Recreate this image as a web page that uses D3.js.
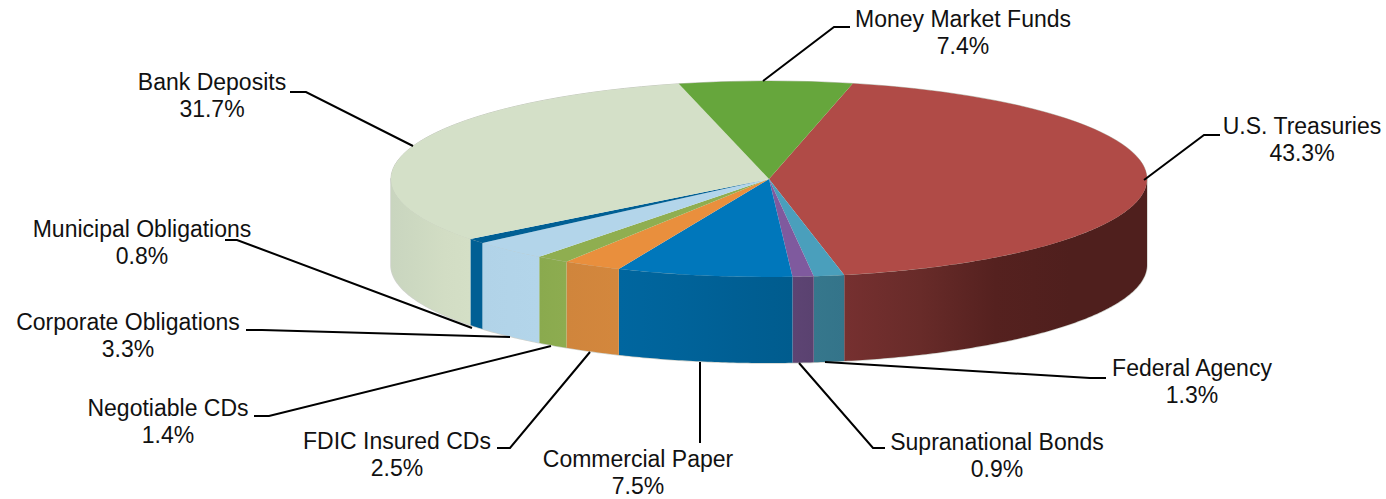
<!DOCTYPE html>
<html>
<head>
<meta charset="utf-8">
<style>
html,body{margin:0;padding:0;background:#fff;}
svg{display:block;}
text{font-family:"Liberation Sans",Arial,sans-serif;font-size:23px;fill:#111;text-anchor:middle;}
</style>
<script src="https://cdn.jsdelivr.net/npm/d3@7/dist/d3.min.js"></script>
</head>
<body>
<svg id="chart" width="1386" height="499"></svg>
<script>
// Portfolio composition, percent of total, clockwise from the Treasuries slice
const categories = ["U.S. Treasuries","Federal Agency","Supranational Bonds","Commercial Paper","FDIC Insured CDs","Negotiable CDs","Corporate Obligations","Municipal Obligations","Bank Deposits","Money Market Funds"];
const shares = [43.3,1.3,0.9,7.5,2.5,1.4,3.3,0.8,31.7,7.4];
const topColors = ["#b04b47","#4a9fbc","#7f5a9e","#0077bb","#e98f3d","#8fae50","#b3d5ea","#005f94","#d4e0c8","#66a63c"];
// Shading across the outer wall of each slice, left to right
const wallShades = [
  ["#763030","#682b29","#55211f","#4f1f1d","#4f1f1d"],
  ["#36778c","#34748a"],
  ["#5d4473","#5a4270"],
  ["#00669f","#00639a","#005f94","#005c8e"],
  ["#d0853c","#d3873d"],
  ["#8aaa4e","#8dac50"],
  ["#b1d3e8","#b3d5ea"],
  ["#005f94","#005f94"],
  ["#c9d5bf","#cdd9c1","#d2ddc4","#d4dfc6"],
  ["#66a63c","#66a63c"]
];

// Label placement: text centre, first baseline, and the leader line's path
const labelLayout = [
  {x:1302,y:134,leader:[[1144,180],[1204,135],[1220,135]]},
  {x:1192,y:376,leader:[[825,362],[1090,378],[1106,378]]},
  {x:997,y:450,leader:[[799,363],[873,448],[885,448]]},
  {x:638,y:467,leader:[[700,362],[700,443]]},
  {x:397,y:449,leader:[[590,352],[510,448],[497,448]]},
  {x:168,y:416,leader:[[551,346],[269,416],[254,416]]},
  {x:128,y:330,leader:[[510,337],[262,330],[246,330]]},
  {x:142,y:237,leader:[[472,328],[237,240],[225,240]]},
  {x:212,y:90,leader:[[413,146],[306,92],[290,92]]},
  {x:963,y:27,leader:[[763,81],[834,27],[850,27]]}
];

const cx = 769, cy = 179, rx = 378, ry = 98, depth = 86;
const startDeg = 12.8;
const lineGap = 27;

const svg = d3.select("#chart");
const defs = svg.append("defs");

const slices = d3.pie().sort(null)
  .startAngle(startDeg * Math.PI / 180)
  .endAngle((startDeg + 360) * Math.PI / 180)(shares);

const px = a => cx + rx * Math.sin(a);
const py = a => cy - ry * Math.cos(a);

// Front wall: only the part of the rim facing the viewer, a quarter turn either side of 180 degrees
const wallArea = d3.area()
  .x(px)
  .y0(py)
  .y1(a => py(a) + depth);

function wallSpan(s) {
  const a0 = Math.max(s.startAngle, Math.PI / 2);
  const a1 = Math.min(s.endAngle, Math.PI * 1.5);
  return a1 > a0 ? [a0, a1] : null;
}

// thin pale fringe round the solid's silhouette
svg.append("path")
  .attr("d", wallArea(d3.range(Math.PI / 2, Math.PI * 1.5 + 0.01, 0.01)))
  .attr("fill", "none").attr("stroke", "#cfd2cc").attr("stroke-width", 1.5);
svg.append("ellipse")
  .attr("cx", cx).attr("cy", cy).attr("rx", rx).attr("ry", ry)
  .attr("fill", "none").attr("stroke", "#c2c6bc").attr("stroke-width", 1);

const wallGroup = svg.append("g");
slices.forEach((s, i) => {
  const span = wallSpan(s);
  if (!span) return;
  const steps = Math.max(2, Math.ceil((span[1] - span[0]) / 0.01));
  const samples = d3.range(steps + 1).map(k => span[0] + (span[1] - span[0]) * k / steps);
  const xs = d3.extent(samples, px);
  const grad = defs.append("linearGradient")
    .attr("id", "wall" + i)
    .attr("gradientUnits", "userSpaceOnUse")
    .attr("x1", xs[0]).attr("x2", xs[1]).attr("y1", 0).attr("y2", 0);
  wallShades[i].forEach((c, k, all) => {
    grad.append("stop").attr("offset", k / (all.length - 1)).attr("stop-color", c);
  });
  wallGroup.append("path").attr("d", wallArea(samples)).attr("fill", `url(#wall${i})`);
});

// Top face: circular wedges squashed into the tilted ellipse
const wedge = d3.arc().innerRadius(0).outerRadius(rx);
svg.append("g")
  .attr("transform", `translate(${cx},${cy}) scale(1,${ry / rx})`)
  .selectAll("path")
  .data(slices)
  .join("path")
  .attr("d", wedge)
  .attr("fill", (d, i) => topColors[i]);

// Leader lines
const leaderLine = d3.line();
svg.append("g").selectAll("path")
  .data(labelLayout)
  .join("path")
  .attr("d", d => leaderLine(d.leader))
  .attr("fill", "none")
  .attr("stroke", "#000")
  .attr("stroke-width", 2);

// Two-line labels: category name over its share
const labels = svg.append("g").selectAll("text")
  .data(categories)
  .join("text")
  .attr("x", (d, i) => labelLayout[i].x)
  .attr("y", (d, i) => labelLayout[i].y);
labels.append("tspan").text(d => d);
labels.append("tspan")
  .attr("x", (d, i) => labelLayout[i].x)
  .attr("dy", lineGap)
  .text((d, i) => d3.format(".1f")(shares[i]) + "%");
</script>
</body>
</html>
